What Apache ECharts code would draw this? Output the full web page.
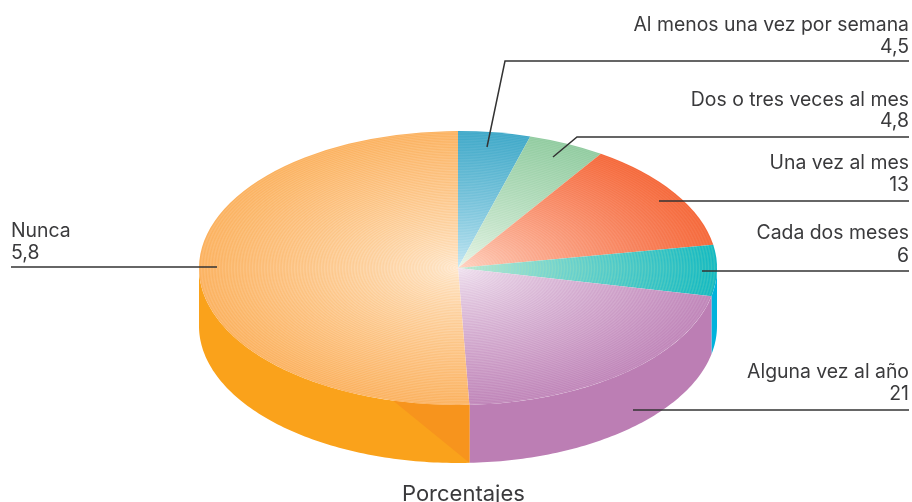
<!DOCTYPE html>
<html><head><meta charset="utf-8">
<style>html,body{margin:0;padding:0;background:#fff}#c{width:912px;height:502px}</style>
<script src="https://cdn.jsdelivr.net/npm/echarts@6/dist/echarts.min.js"></script>
</head><body><div id="c"></div>
<script>
// Data
const categories = ['Al menos una vez por semana','Dos o tres veces al mes','Una vez al mes','Cada dos meses','Alguna vez al año','Nunca'];
const sliceValues = [4.5, 4.8, 13, 6, 21, 50.7];      // drawn share of each slice
const valueLabels = ['4,5','4,8','13','6','21','5,8']; // numbers as printed in the reference
const axisTitle = 'Porcentajes';

// Styles and layout
const FONT = 'Inter, "Open Sans", sans-serif';
const TEXT = '#3a3a3c', LINE = '#333333';
const CX = 458, CY = 268, RX = 259, RY = 137, DEPTH = 58;
const innerColors = ['#cbeaf5','#ecf7ea','#ffd6c6','#d3eedd','#f0e3f0','#ffe8cd'];
const edgeColors  = ['#3ea8c8','#90cb9f','#f5683a','#10b8c2','#bf84b8','#fbb15e'];
const sideColors  = ['#3ea8c8','#90cb9f','#f5683a','#00b3dc','#bc7eb4','#faa21b'];
const ringTints   = ['#ffffff','#ffffff','#ffffff','#a8e4b4','#ffffff','#ffffff'];
const ringAmounts = [0.14,0.18,0.14,0.45,0.22,0.26];
const SHADE = '#f7941d';
const notes = [ // leader line points and text anchor for each label
  {pts:[[487,147],[505,61],[909,61]],  x:909, y1:25,  y2:47,  align:'right'},
  {pts:[[553,157],[577,137],[909,137]],x:909, y1:100, y2:121, align:'right'},
  {pts:[[659,201],[909,201]],          x:909, y1:163, y2:185, align:'right'},
  {pts:[[702,271],[909,271]],          x:909, y1:233, y2:256, align:'right'},
  {pts:[[633,410],[909,410]],          x:909, y1:372, y2:394, align:'right'},
  {pts:[[217,267],[11,267]],           x:11,  y1:231, y2:253, align:'left'}
];

const total = sliceValues.reduce((a,b)=>a+b,0);
let running = 0;
const slices = sliceValues.map((v,i)=>{ const s = running; running += v; return [i, s, running, v]; });
const toDeg = v => v/total*360;
const pt = (deg,dy) => [CX+RX*Math.sin(deg*Math.PI/180), CY-RY*Math.cos(deg*Math.PI/180)+(dy||0)];

function hex(c){return [1,3,5].map(i=>parseInt(c.substr(i,2),16));}
function mix(a,b,f){return a.map((x,i)=>Math.round(x+(b[i]-x)*f));}
function css(c){return 'rgb('+c.join(',')+')';}
function ringFill(i){
  const a = hex(innerColors[i]), b = hex(edgeColors[i]), t = hex(ringTints[i]), stops = [];
  const step = 3/RX;
  for(let f=0,k=0;f<1;f+=step/2,k++){
    const base = mix(a,b,Math.pow(f,0.72));
    const c = k%2 ? mix(base,t,ringAmounts[i]*(1-f*0.5)) : base;
    stops.push({offset:Math.min(f,1),color:css(c)});
  }
  stops.push({offset:1,color:css(b)});
  return new echarts.graphic.RadialGradient(0,0,RX,stops,true);
}
function arcPoly(a,b,dy){
  const out=[]; const n=Math.max(2,Math.ceil(Math.abs(b-a)));
  for(let k=0;k<=n;k++) out.push(pt(a+(b-a)*k/n,dy));
  return out;
}

function renderSide(params,api){
  const i=api.value(0), a=Math.max(toDeg(api.value(1)),90), b=Math.min(toDeg(api.value(2)),270);
  if(b<=a) return {type:'group',children:[]};
  const kids=[{type:'polygon',shape:{points:arcPoly(a,b,0).concat(arcPoly(b,a,DEPTH))},style:{fill:sideColors[i]}}];
  if(i===slices.length-1){ // darker fold at the start of the last slice
    const s=arcPoly(a,a+17,0);
    kids.push({type:'polygon',shape:{points:s.concat([pt(a,DEPTH)])},style:{fill:SHADE}});
  }
  return {type:'group',children:kids};
}
function renderTop(params,api){
  const i=api.value(0), a=toDeg(api.value(1)), b=toDeg(api.value(2));
  return {type:'sector',x:CX,y:CY,scaleY:RY/RX,
    shape:{cx:0,cy:0,r0:0,r:RX,startAngle:(a-90)*Math.PI/180,endAngle:(b-90)*Math.PI/180,clockwise:true},
    style:{fill:ringFill(i)}};
}
function renderNote(params,api){
  const i=api.value(0), n=notes[i];
  const txt=(s,y)=>({type:'text',style:{text:s,x:n.x,y:y,align:n.align,verticalAlign:'middle',font:'400 19.4px '+FONT,fill:TEXT}});
  return {type:'group',children:[
    {type:'polyline',shape:{points:n.pts},style:{stroke:LINE,lineWidth:1.5,fill:null}},
    txt(categories[i],n.y1),txt(valueLabels[i],n.y2)]};
}

const chart = echarts.init(document.getElementById('c'),null,{renderer:'canvas'});
chart.setOption({
  animation:false, backgroundColor:'#fff',
  title:{text:axisTitle,left:397,top:478,
    textStyle:{fontFamily:FONT,fontWeight:400,fontSize:22,color:TEXT}},
  series:[
    {type:'custom',coordinateSystem:'none',silent:true,data:slices,renderItem:renderSide},
    {type:'custom',coordinateSystem:'none',silent:true,data:slices,renderItem:renderTop},
    {type:'custom',coordinateSystem:'none',silent:true,data:slices,renderItem:renderNote}
  ]
});
</script></body></html>
